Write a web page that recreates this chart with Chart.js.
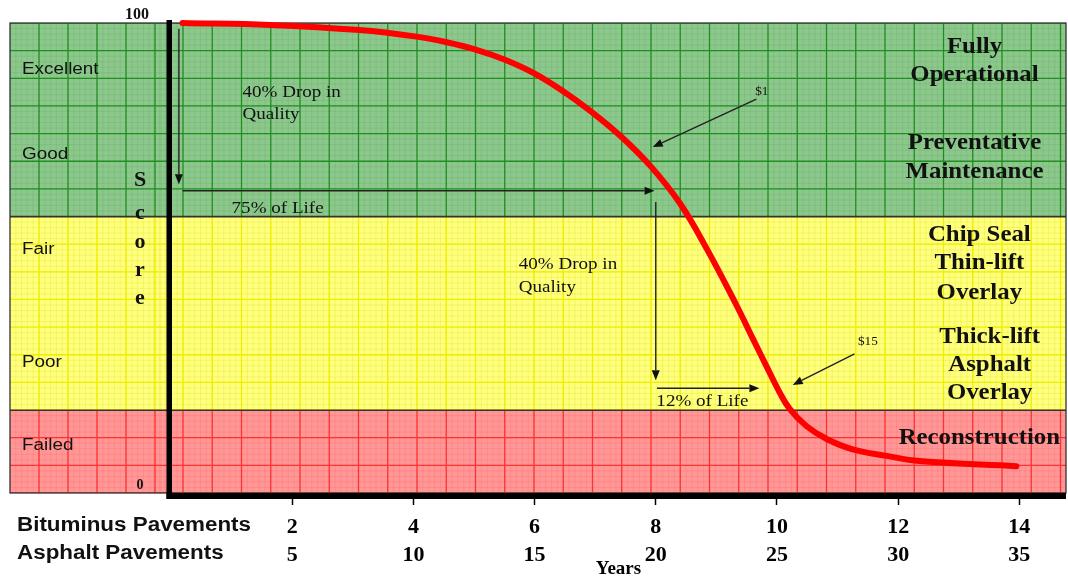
<!DOCTYPE html>
<html><head><meta charset="utf-8">
<script src="https://cdn.jsdelivr.net/npm/chart.js@4.4.1/dist/chart.umd.min.js"></script>
<style>html,body{margin:0;padding:0;background:#fff;overflow:hidden}</style>
</head><body>
<canvas id="c" width="1068" height="579"></canvas>
<script>
// ---- data ----
const years  = [0.19, 1.63, 3.11, 4.05, 4.55, 5.04, 5.51, 5.98, 6.46, 6.94, 7.44, 7.91, 8.39, 8.84, 9.33, 9.60, 9.83, 10.04, 10.21, 10.49, 10.82, 11.25, 11.81, 12.35, 13.95];
const scores = [100, 99.6, 98.5, 97.1, 95.9, 94.3, 92.2, 89.4, 85.6, 81.1, 75.7, 69.6, 61.8, 52.0, 40.0, 32.9, 26.9, 21.5, 17.9, 14.2, 11.5, 9.3, 7.9, 6.8, 5.7];
const tickYears = [2, 4, 6, 8, 10, 12, 14];
const bituminousLabels = ['2', '4', '6', '8', '10', '12', '14'];
const asphaltLabels = ['5', '10', '15', '20', '25', '30', '35'];
const rowLabels = ['Bituminus Pavements', 'Asphalt Pavements'];
const bandEdges = [100, 58.8, 17.6, 0];
const conditionLabels = ['Excellent', 'Good', 'Fair', 'Poor', 'Failed'];
const conditionScores = [90.0, 71.9, 51.7, 27.7, 10.0];
const axisLetters = ['S', 'c', 'o', 'r', 'e'];
const axisLetterScores = [66.6, 59.6, 53.4, 47.4, 41.5];
const treatmentLines = ['Fully', 'Operational', 'Preventative', 'Maintenance', 'Chip Seal', 'Thin-lift', 'Overlay', 'Thick-lift', 'Asphalt', 'Overlay', 'Reconstruction'];
const treatmentX = [13.26, 13.26, 13.26, 13.26, 13.34, 13.34, 13.34, 13.51, 13.51, 13.51, 13.34];
const treatmentY = [94.9, 88.9, 74.5, 68.3, 54.9, 48.9, 42.6, 33.2, 27.2, 21.3, 11.7];
const noteTexts = ['40% Drop in', 'Quality', '75% of Life', '40% Drop in', 'Quality', '12% of Life'];
const noteX = [1.18, 1.18, 1.0, 5.74, 5.74, 8.01];
const noteY = [85.3, 80.6, 60.6, 48.7, 43.8, 19.4];
const costTexts = ['$1', '$15'];
const costX = [9.75, 11.5];
const costY = [85.3, 32.1];
const arrowFrom = [[0.13, 98.7], [0.19, 64.3], [8.0, 61.9], [8.02, 22.3], [9.66, 83.8], [11.28, 29.6]];
const arrowTo   = [[0.13, 65.7], [7.98, 64.3], [8.0, 24.0], [9.71, 22.3], [7.95, 73.6], [10.26, 23.0]];

const SERIF = '"Liberation Serif", "Times New Roman", serif';
const SANS = '"Liberation Sans", Arial, sans-serif';

function txt(ctx, s, px, py, font, align, sx) {
  ctx.save();
  ctx.font = font;
  ctx.textAlign = align;
  ctx.textBaseline = 'middle';
  ctx.fillStyle = '#111';
  ctx.translate(px, py);
  ctx.scale(sx, 1);
  ctx.fillText(s, 0, 0);
  ctx.restore();
}

const background = {
  id: 'background',
  beforeDraw(chart) {
    const { ctx, chartArea: a, scales: { x, y } } = chart;
    const L = 10, R = a.right;
    const fills = ['#8cc78c', '#ffff80', '#ff9797'];
    const majors = ['rgba(0,125,0,0.75)', 'rgba(238,238,0,1)', 'rgba(255,20,20,0.75)'];
    const minors = ['rgba(0,110,0,0.08)', 'rgba(220,220,0,0.25)', 'rgba(255,0,0,0.09)'];
    const hStep = 100 / 17;
    for (let i = 0; i < 3; i++) {
      const top = y.getPixelForValue(bandEdges[i]);
      const bot = y.getPixelForValue(bandEdges[i + 1]);
      ctx.save();
      ctx.fillStyle = fills[i];
      ctx.fillRect(L, top, R - L, bot - top);
      ctx.beginPath(); ctx.rect(L, top, R - L, bot - top); ctx.clip();
      ctx.strokeStyle = minors[i]; ctx.lineWidth = 1;
      ctx.beginPath();
      for (let k = 0; k < 17 * 5; k++) {
        const py = y.getPixelForValue(k * hStep / 5);
        ctx.moveTo(L, py); ctx.lineTo(R, py);
      }
      for (let px = L; px < a.left; px += 29 / 5) { ctx.moveTo(px, top); ctx.lineTo(px, bot); }
      for (let px = a.left + 12 - 29.25; px < R; px += 29.25 / 5) { ctx.moveTo(px, top); ctx.lineTo(px, bot); }
      ctx.stroke();
      ctx.strokeStyle = majors[i]; ctx.lineWidth = 1.3;
      ctx.beginPath();
      for (let k = 0; k <= 17; k++) {
        const py = y.getPixelForValue(k * hStep);
        ctx.moveTo(L, py); ctx.lineTo(R, py);
      }
      for (let px = L + 29; px < a.left - 5; px += 29) { ctx.moveTo(px, top); ctx.lineTo(px, bot); }
      for (let px = a.left + 12; px < R; px += 29.25) { ctx.moveTo(px, top); ctx.lineTo(px, bot); }
      ctx.stroke();
      ctx.restore();
    }
    ctx.save();
    ctx.strokeStyle = '#333'; ctx.lineWidth = 1.6;
    ctx.beginPath();
    [bandEdges[1], bandEdges[2]].forEach(v => { const py = y.getPixelForValue(v); ctx.moveTo(L, py); ctx.lineTo(R, py); });
    ctx.stroke();
    ctx.lineWidth = 1.3;
    ctx.strokeRect(L, a.top, R - L, a.bottom - a.top);
    ctx.restore();

    conditionLabels.forEach((s, i) => txt(ctx, s, 22, y.getPixelForValue(conditionScores[i]), '16px ' + SANS, 'left', 1.18));
    txt(ctx, '100', a.left - 34, y.getPixelForValue(100) - 8, 'bold 16px ' + SERIF, 'center', 1);
    txt(ctx, '0', a.left - 31, y.getPixelForValue(0) - 8, 'bold 14px ' + SERIF, 'center', 1);
    axisLetters.forEach((s, i) => txt(ctx, s, a.left - 31, y.getPixelForValue(axisLetterScores[i]), 'bold 22px ' + SERIF, 'center', 1));

    treatmentLines.forEach((s, i) => txt(ctx, s, x.getPixelForValue(treatmentX[i]), y.getPixelForValue(treatmentY[i]), 'bold 23px ' + SERIF, 'center', 1.08));
    noteTexts.forEach((s, i) => txt(ctx, s, x.getPixelForValue(noteX[i]), y.getPixelForValue(noteY[i]), '17px ' + SERIF, 'left', 1.12));
    costTexts.forEach((s, i) => txt(ctx, s, x.getPixelForValue(costX[i]), y.getPixelForValue(costY[i]), '12px ' + SERIF, 'center', 1.1));

    ctx.save();
    ctx.strokeStyle = '#222'; ctx.fillStyle = '#111'; ctx.lineWidth = 1.4;
    arrowFrom.forEach((f, i) => {
      const x0 = x.getPixelForValue(f[0]), y0 = y.getPixelForValue(f[1]);
      const x1 = x.getPixelForValue(arrowTo[i][0]), y1 = y.getPixelForValue(arrowTo[i][1]);
      const ang = Math.atan2(y1 - y0, x1 - x0);
      const hl = 10, hw = 4;
      const bx = x1 - hl * Math.cos(ang), by = y1 - hl * Math.sin(ang);
      ctx.beginPath(); ctx.moveTo(x0, y0); ctx.lineTo(bx, by); ctx.stroke();
      ctx.beginPath();
      ctx.moveTo(x1, y1);
      ctx.lineTo(bx + hw * Math.sin(ang), by - hw * Math.cos(ang));
      ctx.lineTo(bx - hw * Math.sin(ang), by + hw * Math.cos(ang));
      ctx.closePath(); ctx.fill();
    });
    ctx.restore();

    ctx.save();
    ctx.fillStyle = '#000';
    ctx.fillRect(a.left - 4.5, a.top - 3, 5.5, a.bottom - a.top + 9);
    ctx.fillRect(a.left - 4.5, a.bottom, R - a.left + 4.5, 6);
    ctx.restore();

    rowLabels.forEach((s, i) => txt(ctx, s, 17, a.bottom + 32 + i * 28, 'bold 20px ' + SANS, 'left', 1.12));
  }
};

new Chart(document.getElementById('c'), {
  type: 'line',
  data: {
    datasets: [{
      data: years.map((v, i) => ({ x: v, y: scores[i] })),
      borderColor: '#ff0000',
      borderWidth: 6,
      pointRadius: 0,
      tension: 0.4,
      borderCapStyle: 'round',
      fill: false,
      clip: false
    }]
  },
  options: {
    responsive: false,
    animation: false,
    devicePixelRatio: 1,
    layout: { padding: { top: 23, right: 2, left: 0, bottom: 0 } },
    plugins: { legend: { display: false }, tooltip: { enabled: false } },
    scales: {
      x: {
        type: 'linear', min: 0, max: 14.77,
        afterBuildTicks: s => { s.ticks = tickYears.map(v => ({ value: v })); },
        afterFit: s => { s.height = 86; },
        ticks: {
          autoSkip: false, maxRotation: 0, color: '#000', padding: 8,
          font: { family: SERIF, size: 22, weight: 'bold', lineHeight: 1.27 },
          callback: (v, i) => [bituminousLabels[i], asphaltLabels[i]]
        },
        grid: { drawOnChartArea: false, drawTicks: true, tickLength: 12, tickColor: '#000', tickWidth: 1.5 },
        border: { display: false },
        title: { display: true, text: 'Years', color: '#000', font: { family: SERIF, size: 19, weight: 'bold', lineHeight: 1.0 }, padding: { top: 0, bottom: 0 } }
      },
      y: {
        min: 0, max: 100,
        afterFit: s => { s.width = 171; },
        ticks: { display: false },
        grid: { display: false },
        border: { display: false }
      }
    }
  },
  plugins: [background]
});
</script>
</body></html>
